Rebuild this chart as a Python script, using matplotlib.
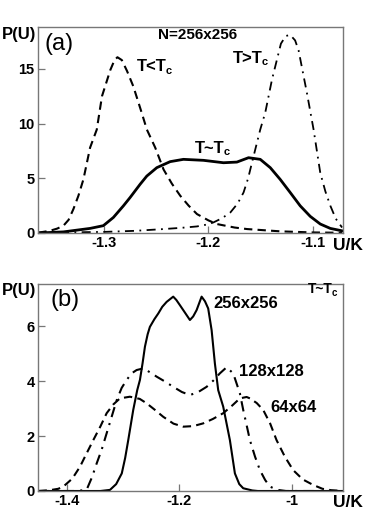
import matplotlib
matplotlib.use("Agg")
import matplotlib.pyplot as plt

plt.rcParams["font.family"] = ["Liberation Sans", "DejaVu Sans"]
plt.rcParams["axes.unicode_minus"] = False

# ── panel (a): N=256x256, three temperatures ──
a_low_x = [-1.363, -1.352, -1.345, -1.339, -1.334, -1.3294, -1.3246, -1.3198, -1.3134, -1.307,
           -1.302, -1.294, -1.29, -1.2872, -1.283, -1.278, -1.272, -1.265, -1.259, -1.251,
           -1.243, -1.235, -1.227, -1.219, -1.211, -1.2, -1.192, -1.175, -1.163, -1.131,
           -1.10, -1.072]
a_low_y = [0.03, 0.2, 0.4, 0.66, 1.2, 2.18, 3.4, 4.9, 7.8, 9.45,
           12.5, 14.9, 15.8, 16.06, 15.8, 14.8, 13.4, 11.3, 9.45, 7.8,
           5.8, 4.5, 3.4, 2.5, 1.73, 1.15, 0.82, 0.5, 0.36, 0.15,
           0.05, 0.02]

a_high_x = [-1.363, -1.30, -1.27, -1.243, -1.225, -1.211, -1.2, -1.1952, -1.187, -1.179,
            -1.172, -1.1664, -1.162, -1.1584, -1.1504, -1.1456, -1.1392, -1.1306, -1.126, -1.1217,
            -1.117, -1.1137, -1.1057, -1.0993, -1.0929, -1.088, -1.0833, -1.078, -1.072]
a_high_y = [0.02, 0.1, 0.2, 0.36, 0.48, 0.6, 0.8, 0.97, 1.35, 1.88,
            2.7, 3.7, 5.0, 6.4, 9.45, 11.0, 14.0, 17.3, 18.0, 18.1,
            17.6, 16.7, 12.8, 9.45, 5.5, 3.8, 2.5, 1.3, 0.5]

a_crit_x = [-1.363, -1.339, -1.3134, -1.3007, -1.2911, -1.2815, -1.2751, -1.2655, -1.2591, -1.2495,
            -1.2367, -1.224, -1.2048, -1.1856, -1.1728, -1.1616, -1.1504, -1.1408, -1.1313, -1.1217,
            -1.1121, -1.1025, -1.0929, -1.0833, -1.0721]
a_crit_y = [0.0, 0.1, 0.42, 0.67, 1.42, 2.48, 3.24, 4.45, 5.2, 5.97,
            6.52, 6.73, 6.64, 6.42, 6.48, 6.88, 6.73, 5.97, 4.9, 3.7,
            2.48, 1.52, 0.82, 0.42, 0.2]

# ── panel (b): T~Tc, three lattice sizes ──
b_256_x = [-1.45, -1.34, -1.323, -1.312, -1.302, -1.296, -1.2905, -1.2816, -1.2745, -1.2697,
           -1.265, -1.2608, -1.256, -1.252, -1.244, -1.237, -1.23, -1.2222, -1.2105, -1.205,
           -1.1986, -1.19, -1.1808, -1.175, -1.1689, -1.164, -1.16, -1.154, -1.1483, -1.1422,
           -1.1364, -1.1305, -1.1216, -1.1097, -1.1008, -1.093, -1.086, -1.07, -1.06, -0.908]
b_256_y = [0.0, 0.0, 0.04, 0.25, 0.64, 1.2, 1.85, 2.95, 3.67, 4.04,
           4.65, 5.25, 5.7, 5.97, 6.25, 6.46, 6.7, 6.88, 7.07, 6.95,
           6.76, 6.5, 6.22, 6.35, 6.58, 6.85, 7.07, 6.9, 6.64, 5.85,
           4.64, 3.67, 3.07, 1.85, 0.64, 0.25, 0.1, 0.02, 0.0, 0.0]

b_128_x = [-1.45, -1.38, -1.3644, -1.355, -1.3467, -1.3378, -1.3289, -1.32, -1.3111, -1.3022,
           -1.2933, -1.2845, -1.2756, -1.2638, -1.252, -1.24, -1.225, -1.2105, -1.195, -1.1808,
           -1.166, -1.1511, -1.139, -1.1275, -1.1156, -1.1038, -1.0919, -1.086, -1.08, -1.0741,
           -1.065, -1.0563, -1.047, -1.0386, -1.025, -1.01, -0.908]
b_128_y = [0.0, 0.0, 0.05, 0.5, 1.0, 1.5, 2.1, 2.7, 3.3, 3.75,
           4.04, 4.28, 4.4, 4.46, 4.32, 4.16, 3.98, 3.79, 3.6, 3.49,
           3.6, 3.79, 4.02, 4.28, 4.5, 4.28, 3.55, 2.95, 2.4, 1.85,
           1.25, 0.76, 0.4, 0.16, 0.04, 0.0, 0.0]

b_64_x = [-1.45, -1.43, -1.415, -1.406, -1.39, -1.3764, -1.365, -1.3527, -1.34, -1.3289,
          -1.317, -1.3052, -1.2875, -1.27, -1.2578, -1.243, -1.2283, -1.21, -1.1927, -1.175,
          -1.1572, -1.14, -1.1216, -1.105, -1.0919, -1.08, -1.0741, -1.062, -1.0505, -1.038,
          -1.0267, -1.012, -0.9972, -0.98, -0.9616, -0.945, -0.93, -0.908]
b_64_y = [0.0, 0.03, 0.08, 0.16, 0.45, 0.88, 1.35, 1.85, 2.35, 2.83,
          3.15, 3.37, 3.43, 3.35, 3.19, 2.95, 2.7, 2.45, 2.34, 2.36,
          2.46, 2.62, 2.83, 3.12, 3.37, 3.42, 3.37, 3.2, 2.95, 2.45,
          1.85, 1.25, 0.76, 0.42, 0.22, 0.08, 0.03, 0.0]

a_xticks = [-1.3, -1.2, -1.1]
a_yticks = [0, 5, 10, 15]
b_xticks = [-1.4, -1.2, -1.0]
b_xticklabels = ["-1.4", "-1.2", "-1"]
b_yticks = [0, 2, 4, 6]

W, H = 382, 517
fig = plt.figure(figsize=(W / 100, H / 100), dpi=100)


def px_axes(l, t, r, b):
    return fig.add_axes([l / W, 1 - b / H, (r - l) / W, (b - t) / H])


def ftext(x, y, s, **kw):
    # x = left edge px, y = vertical centre px (from the top)
    kw.setdefault("fontweight", "bold")
    return fig.text(x / W, 1 - y / H, s, ha="left", va="center", **kw)


def style(ax):
    for s in ax.spines.values():
        s.set_color("#777777")
        s.set_linewidth(1.0)
    ax.tick_params(direction="in", length=5, width=0.9, color="#777777",
                   labelsize=10.5, pad=2.5)
    for lab in ax.get_xticklabels() + ax.get_yticklabels():
        lab.set_fontweight("bold")


ax = px_axes(38, 26.7, 342.5, 233)
ax.plot(a_low_x, a_low_y, color="black", lw=1.5, ls=(0, (4, 2.5)))
ax.plot(a_high_x, a_high_y, color="black", lw=1.3, ls=(0, (5, 3, 1, 3)))
ax.plot(a_crit_x, a_crit_y, color="black", lw=2.0)
ax.set_xlim(-1.3633, -1.0716)
ax.set_ylim(0, 18.85)
ax.set_xticks(a_xticks)
ax.set_yticks(a_yticks)
style(ax)

bx = px_axes(38, 284, 343.3, 491)
bx.plot(b_64_x, b_64_y, color="black", lw=1.5, ls=(0, (4, 2.5)))
bx.plot(b_128_x, b_128_y, color="black", lw=1.5, ls=(0, (5, 3, 1, 3)))
bx.plot(b_256_x, b_256_y, color="black", lw=1.5)
bx.set_xlim(-1.451, -0.908)
bx.set_ylim(0, 7.53)
bx.set_xticks(b_xticks)
bx.set_xticklabels(b_xticklabels)
bx.set_yticks(b_yticks)
style(bx)

# axis titles and labels
ftext(1.5, 34, "P(U)", fontsize=12)
ftext(333, 246, "U/K", fontsize=12.5)
ftext(45, 44, "(a)", fontsize=17, fontweight="normal")
fig.text(197.5 / W, 1 - 34.7 / H, "N=256x256", ha="center", va="center",
         fontsize=11, fontweight="bold")

ftext(1.5, 291, "P(U)", fontsize=12)
ftext(333, 502.5, "U/K", fontsize=12.5)
ftext(50, 300, "(b)", fontsize=17, fontweight="normal")
ftext(213, 304, "256x256", fontsize=12)
ftext(239, 371, "128x128", fontsize=12)
ftext(270, 407.5, "64x64", fontsize=12)


def temp_label(x, y, s, size, csize):
    t = ftext(x, y, s, fontsize=size)
    fig.canvas.draw()
    bb = t.get_window_extent()
    fig.text((bb.x1 - 1) / W, (bb.y0 - 1.5) / H, "c", ha="left", va="bottom",
             fontsize=csize, fontweight="bold")


temp_label(136.7, 66.7, "T<T", 12, 8)
temp_label(233.3, 58.3, "T>T", 12, 8)
temp_label(195, 148.3, "T~T", 12, 8)
temp_label(308, 289, "T~T", 10, 7)

fig.savefig("out.png", dpi=100)
